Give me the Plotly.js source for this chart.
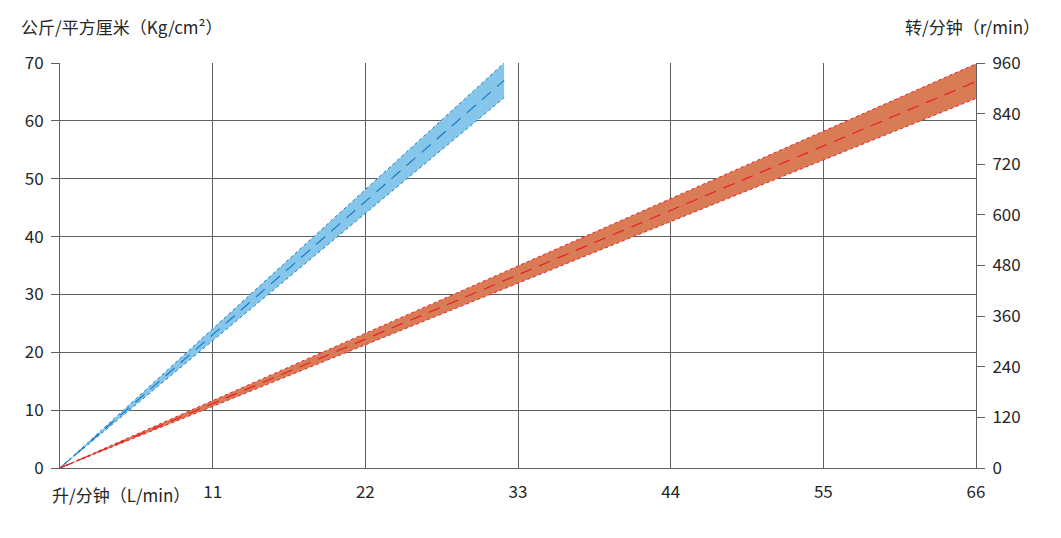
<!DOCTYPE html>
<html><head><meta charset="utf-8">
<script src="https://cdn.plot.ly/plotly-3.0.1.min.js"></script>
<style>body{margin:0;background:#fff}#c{width:1061px;height:538px}</style>
</head><body><div id="c"></div>
<script>
// Flow (L/min)
const flowBlue = [0, 32];
const pressUpper = [0, 70];
const pressMid = [0, 67];
const pressLower = [0, 64];
const flowRed = [0, 66];
const rpmUpper = [0, 958];
const rpmMid = [0, 916];
const rpmLower = [0, 876];
const xTicks = [11, 22, 33, 44, 55, 66];
const yTicks = [0, 10, 20, 30, 40, 50, 60, 70];
const y2Ticks = [0, 120, 240, 360, 480, 600, 720, 840, 960];

const font = "'Noto Sans CJK SC', 'Noto Sans', sans-serif";
const txt = '#262626';
const blueLine = '#1a7cc6', blueFill = 'rgba(133,198,234,1)';
const redLine = '#e8202a', redFill = 'rgba(217,123,85,1)';

const traces = [
  {x: flowBlue, y: pressLower, mode: 'lines', line: {color: blueLine, width: 1, dash: 'dot'}, hoverinfo: 'skip'},
  {x: flowBlue, y: pressUpper, mode: 'lines', fill: 'tonexty', fillcolor: blueFill, line: {color: blueLine, width: 1, dash: 'dot'}, hoverinfo: 'skip'},
  {x: flowBlue, y: pressMid, mode: 'lines', line: {color: blueLine, width: 1.2, dash: '12px,8px'}, hoverinfo: 'skip'},
  {x: flowRed, y: rpmLower, yaxis: 'y2', mode: 'lines', line: {color: redLine, width: 1, dash: 'dot'}, hoverinfo: 'skip'},
  {x: flowRed, y: rpmUpper, yaxis: 'y2', mode: 'lines', fill: 'tonexty', fillcolor: redFill, line: {color: redLine, width: 1, dash: 'dot'}, hoverinfo: 'skip'},
  {x: flowRed, y: rpmMid, yaxis: 'y2', mode: 'lines', line: {color: redLine, width: 1.2, dash: '12px,8px'}, hoverinfo: 'skip'}
];

const tf = {family: font, size: 17, color: txt};
const layout = {
  width: 1061, height: 538,
  margin: {l: 60, r: 85, t: 63, b: 70},
  paper_bgcolor: '#fff', plot_bgcolor: '#fff',
  showlegend: false,
  font: tf,
  xaxis: {
    range: [0, 66], tickvals: xTicks, ticktext: xTicks.map(String),
    showgrid: true, gridcolor: '#5f5f5f', gridwidth: 1,
    zeroline: false, showline: true, linecolor: '#5f5f5f', linewidth: 1,
    ticks: '', tickfont: tf, ticklabelstandoff: 9
  },
  yaxis: {
    range: [0, 70], tickvals: yTicks, ticktext: yTicks.map(String),
    showgrid: true, gridcolor: '#5f5f5f', gridwidth: 1,
    zeroline: false, showline: true, linecolor: '#5f5f5f', linewidth: 1,
    ticks: 'outside', ticklen: 8, tickcolor: '#5f5f5f',
    tickfont: tf, ticklabelstandoff: 4
  },
  yaxis2: {
    range: [0, 960], tickvals: y2Ticks, ticktext: y2Ticks.map(String),
    overlaying: 'y', side: 'right', showgrid: false,
    zeroline: false, showline: true, linecolor: '#5f5f5f', linewidth: 1,
    ticks: 'outside', ticklen: 8, tickcolor: '#5f5f5f',
    tickfont: tf, ticklabelstandoff: 4
  },
  annotations: [
    {text: '公斤/平方厘米（Kg/cm²）', xref: 'paper', yref: 'paper', x: -0.045, y: 1, xanchor: 'left', yanchor: 'bottom', yshift: 22, showarrow: false, font: tf},
    {text: '转/分钟（r/min）', xref: 'paper', yref: 'paper', x: 1.072, y: 1, xanchor: 'right', yanchor: 'bottom', yshift: 22, showarrow: false, font: tf},
    {text: '升/分钟（L/min）', xref: 'paper', yref: 'paper', x: 0, y: 0, xanchor: 'left', yanchor: 'top', xshift: -10, yshift: -12, showarrow: false, font: tf}
  ]
};

Plotly.newPlot('c', traces, layout, {staticPlot: true, displayModeBar: false});
</script>
</body></html>
